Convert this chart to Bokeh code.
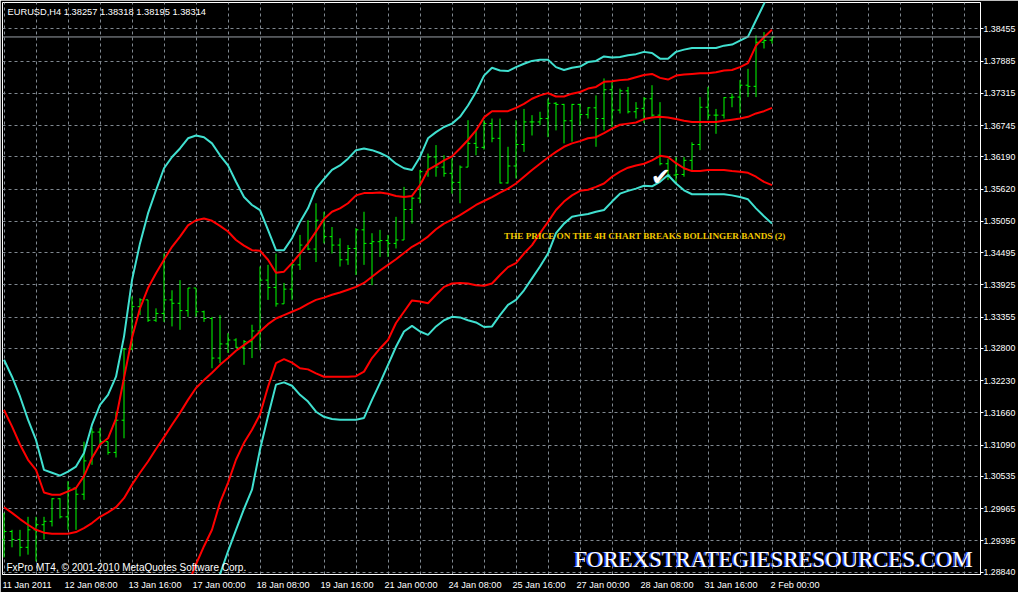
import numpy as np
from bokeh.plotting import figure
from bokeh.models import (ColumnDataSource, FixedTicker, SingleIntervalTicker, Range1d,
                          Label, Span, PrintfTickFormatter)
from bokeh.embed import file_html
from bokeh.resources import INLINE

# ---------------- data ----------------
title_text = "EURUSD,H4  1.38257 1.38318 1.38195 1.38314"
last_price = 1.38314

tick_bars = [0, 8, 16, 24, 32, 40, 48, 56, 64, 72, 80, 88, 96]
tick_labels = ["11 Jan 2011", "12 Jan 08:00", "13 Jan 16:00", "17 Jan 00:00", "18 Jan 08:00",
               "19 Jan 16:00", "21 Jan 00:00", "24 Jan 08:00", "25 Jan 16:00", "27 Jan 00:00",
               "28 Jan 08:00", "31 Jan 16:00", "2 Feb 00:00"]

price_ticks = [1.38455, 1.37885, 1.37315, 1.36745, 1.36190, 1.35620, 1.35050, 1.34495, 1.33925,
               1.33355, 1.32800, 1.32230, 1.31660, 1.31090, 1.30535, 1.29965, 1.29395, 1.28840]

opens = [1.2942, 1.2956, 1.2942, 1.2928, 1.2959, 1.2968, 1.2974, 1.3014, 1.2982, 1.3033,
         1.3022, 1.3081, 1.3132, 1.3115, 1.3096, 1.3153, 1.3279, 1.3354, 1.3366, 1.3330,
         1.3342, 1.3366, 1.3360, 1.3347, 1.3387, 1.3345, 1.3333, 1.3263, 1.3288, 1.3295,
         1.3282, 1.3292, 1.3311, 1.3401, 1.3388, 1.3359, 1.3385, 1.3428, 1.3463, 1.3456,
         1.3507, 1.3478, 1.3463, 1.3437, 1.3457, 1.3490, 1.3466, 1.3469, 1.3471, 1.3466,
         1.3472, 1.3526, 1.3546, 1.3593, 1.3619, 1.3601, 1.3590, 1.3574, 1.3601, 1.3643,
         1.3636, 1.3678, 1.3652, 1.3573, 1.3603, 1.3641, 1.3681, 1.3681, 1.3687, 1.3714,
         1.3712, 1.3683, 1.3712, 1.3694, 1.3706, 1.3687, 1.3738, 1.3702, 1.3736, 1.3699,
         1.3705, 1.3722, 1.3693, 1.3607, 1.3587, 1.3588, 1.3613, 1.3641, 1.3707, 1.3693,
         1.3693, 1.3724, 1.3725, 1.3746, 1.3744, 1.3822, 1.38257]

highs = [1.2989, 1.2959, 1.2959, 1.2982, 1.2982, 1.2982, 1.3015, 1.3015, 1.3045, 1.3033,
         1.3115, 1.3139, 1.3139, 1.3115, 1.3168, 1.3280, 1.3372, 1.3369, 1.3366, 1.3351,
         1.3448, 1.3383, 1.3401, 1.3387, 1.3387, 1.3347, 1.3336, 1.3339, 1.3307, 1.3298,
         1.3295, 1.3322, 1.3425, 1.3428, 1.3448, 1.3396, 1.3431, 1.3481, 1.3507, 1.3537,
         1.3522, 1.3495, 1.3475, 1.3463, 1.3493, 1.3522, 1.3484, 1.3490, 1.3481, 1.3513,
         1.3566, 1.3548, 1.3596, 1.3625, 1.3640, 1.3622, 1.3616, 1.3604, 1.3684, 1.3666,
         1.3684, 1.3687, 1.3687, 1.3637, 1.3684, 1.3704, 1.3693, 1.3699, 1.3722, 1.3716,
         1.3713, 1.3713, 1.3713, 1.3707, 1.3728, 1.3758, 1.3752, 1.3740, 1.3743, 1.3716,
         1.3725, 1.3746, 1.3716, 1.3616, 1.3619, 1.3619, 1.3645, 1.3725, 1.3743, 1.3704,
         1.3725, 1.3731, 1.3755, 1.3775, 1.3834, 1.3840, 1.38318]

lows = [1.2910, 1.2928, 1.2912, 1.2915, 1.2903, 1.2942, 1.2965, 1.2979, 1.2959, 1.2959,
        1.3012, 1.3074, 1.3110, 1.3092, 1.3087, 1.3121, 1.3277, 1.3339, 1.3327, 1.3327,
        1.3327, 1.3319, 1.3313, 1.3336, 1.3336, 1.3327, 1.3245, 1.3254, 1.3272, 1.3281,
        1.3251, 1.3263, 1.3277, 1.3366, 1.3354, 1.3359, 1.3366, 1.3419, 1.3454, 1.3433,
        1.3466, 1.3448, 1.3425, 1.3428, 1.3410, 1.3428, 1.3392, 1.3442, 1.3442, 1.3457,
        1.3472, 1.3501, 1.3537, 1.3584, 1.3584, 1.3584, 1.3554, 1.3537, 1.3601, 1.3622,
        1.3632, 1.3645, 1.3572, 1.3572, 1.3581, 1.3628, 1.3657, 1.3675, 1.3654, 1.3666,
        1.3643, 1.3646, 1.3675, 1.3687, 1.3637, 1.3666, 1.3672, 1.3696, 1.3696, 1.3687,
        1.3679, 1.3690, 1.3604, 1.3578, 1.3575, 1.3584, 1.3596, 1.3631, 1.3684, 1.3660,
        1.3687, 1.3707, 1.3696, 1.3725, 1.3725, 1.3811, 1.38195]

closes = [1.2956, 1.2942, 1.2928, 1.2959, 1.2968, 1.2974, 1.3014, 1.2982, 1.3033, 1.3022,
          1.3081, 1.3132, 1.3115, 1.3096, 1.3153, 1.3279, 1.3354, 1.3366, 1.3330, 1.3342,
          1.3366, 1.3360, 1.3347, 1.3387, 1.3345, 1.3333, 1.3263, 1.3288, 1.3295, 1.3282,
          1.3292, 1.3311, 1.3401, 1.3388, 1.3359, 1.3385, 1.3428, 1.3463, 1.3456, 1.3507,
          1.3478, 1.3463, 1.3437, 1.3457, 1.3490, 1.3466, 1.3469, 1.3471, 1.3466, 1.3472,
          1.3526, 1.3546, 1.3593, 1.3619, 1.3601, 1.3590, 1.3574, 1.3601, 1.3643, 1.3636,
          1.3678, 1.3652, 1.3573, 1.3603, 1.3641, 1.3681, 1.3681, 1.3687, 1.3714, 1.3712,
          1.3683, 1.3712, 1.3694, 1.3706, 1.3687, 1.3738, 1.3702, 1.3736, 1.3699, 1.3705,
          1.3722, 1.3693, 1.3607, 1.3587, 1.3588, 1.3613, 1.3641, 1.3707, 1.3693, 1.3693,
          1.3724, 1.3725, 1.3746, 1.3744, 1.3822, 1.3825, 1.38314]

# Bollinger bands: outer (cyan) and inner (red) envelopes, middle line (red)
bb_outer_up = [1.3260, 1.3230, 1.3195, 1.3154, 1.3118, 1.3065, 1.3060, 1.3055, 1.3062, 1.3071,
               1.3095, 1.3145, 1.3180, 1.3198, 1.3230, 1.3301, 1.3401, 1.3466, 1.3519, 1.3560,
               1.3599, 1.3619, 1.3634, 1.3652, 1.3657, 1.3654, 1.3643, 1.3622, 1.3604, 1.3575,
               1.3548, 1.3534, 1.3525, 1.3490, 1.3454, 1.3454, 1.3475, 1.3504, 1.3528, 1.3563,
               1.3580, 1.3596, 1.3604, 1.3616, 1.3631, 1.3634, 1.3631, 1.3626, 1.3619, 1.3607,
               1.3599, 1.3596, 1.3619, 1.3652, 1.3663, 1.3672, 1.3678, 1.3690, 1.3710, 1.3734,
               1.3763, 1.3777, 1.3772, 1.3771, 1.3778, 1.3784, 1.3789, 1.3791, 1.3791, 1.3778,
               1.3773, 1.3777, 1.3779, 1.3787, 1.3789, 1.3797, 1.3795, 1.3796, 1.3799, 1.3801,
               1.3805, 1.3803, 1.3793, 1.3793, 1.3805, 1.3809, 1.3812, 1.3812, 1.3812, 1.3812,
               1.3816, 1.3818, 1.3825, 1.3832, 1.3861, 1.3890, 1.3922]

bb_inner_up = [1.3171, 1.3142, 1.3110, 1.3083, 1.3065, 1.3025, 1.3021, 1.3021, 1.3027, 1.3033,
               1.3054, 1.3086, 1.3110, 1.3121, 1.3156, 1.3228, 1.3299, 1.3351, 1.3387, 1.3413,
               1.3437, 1.3460, 1.3478, 1.3498, 1.3507, 1.3510, 1.3506, 1.3497, 1.3487, 1.3472,
               1.3462, 1.3454, 1.3453, 1.3437, 1.3414, 1.3416, 1.3431, 1.3448, 1.3466, 1.3487,
               1.3509, 1.3522, 1.3528, 1.3537, 1.3551, 1.3555, 1.3555, 1.3556, 1.3554, 1.3550,
               1.3548, 1.3550, 1.3569, 1.3596, 1.3604, 1.3613, 1.3620, 1.3634, 1.3649, 1.3666,
               1.3689, 1.3700, 1.3700, 1.3700, 1.3706, 1.3713, 1.3722, 1.3728, 1.3732, 1.3726,
               1.3726, 1.3731, 1.3734, 1.3740, 1.3743, 1.3752, 1.3753, 1.3755, 1.3756, 1.3760,
               1.3764, 1.3766, 1.3759, 1.3756, 1.3763, 1.3765, 1.3766, 1.3767, 1.3767, 1.3769,
               1.3772, 1.3773, 1.3778, 1.3785, 1.3816, 1.3831, 1.3844]

bb_middle = [1.2999, 1.2989, 1.2978, 1.2968, 1.2959, 1.2954, 1.2952, 1.2952, 1.2952, 1.2955,
             1.2962, 1.2971, 1.2982, 1.2990, 1.2999, 1.3015, 1.3039, 1.3060, 1.3080, 1.3102,
             1.3123, 1.3145, 1.3166, 1.3189, 1.3210, 1.3224, 1.3237, 1.3251, 1.3263, 1.3276,
             1.3286, 1.3296, 1.3310, 1.3323, 1.3333, 1.3339, 1.3345, 1.3351, 1.3359, 1.3366,
             1.3370, 1.3375, 1.3379, 1.3384, 1.3389, 1.3396, 1.3407, 1.3418, 1.3428, 1.3438,
             1.3449, 1.3460, 1.3468, 1.3478, 1.3491, 1.3501, 1.3508, 1.3516, 1.3525, 1.3534,
             1.3541, 1.3548, 1.3556, 1.3563, 1.3572, 1.3584, 1.3596, 1.3607, 1.3618, 1.3628,
             1.3637, 1.3643, 1.3647, 1.3652, 1.3654, 1.3661, 1.3669, 1.3676, 1.3678, 1.3680,
             1.3686, 1.3689, 1.3690, 1.3689, 1.3686, 1.3683, 1.3681, 1.3681, 1.3681, 1.3681,
             1.3683, 1.3685, 1.3687, 1.3690, 1.3696, 1.3700, 1.3706]

bb_inner_dn = [None] * 22 + [
               1.2827, 1.2862, 1.2898, 1.2930, 1.2959, 1.3007, 1.3042, 1.3083,
               1.3113, 1.3136, 1.3163, 1.3212, 1.3254, 1.3261, 1.3255, 1.3245, 1.3243, 1.3236,
               1.3230, 1.3230, 1.3230, 1.3230, 1.3231, 1.3239, 1.3263, 1.3280, 1.3295, 1.3325,
               1.3345, 1.3365, 1.3363, 1.3360, 1.3375, 1.3389, 1.3395, 1.3396, 1.3395, 1.3392,
               1.3391, 1.3395, 1.3410, 1.3424, 1.3431, 1.3448, 1.3463, 1.3484, 1.3504, 1.3525,
               1.3540, 1.3551, 1.3559, 1.3561, 1.3566, 1.3572, 1.3584, 1.3593, 1.3600, 1.3604,
               1.3607, 1.3613, 1.3621, 1.3619, 1.3608, 1.3599, 1.3594, 1.3594, 1.3596, 1.3596,
               1.3596, 1.3594, 1.3593, 1.3591, 1.3584, 1.3575, 1.3569]

bb_outer_dn = [None] * 26 + [
               1.2850, 1.2880, 1.2921, 1.2959,
               1.2996, 1.3030, 1.3101, 1.3160, 1.3216, 1.3220, 1.3214, 1.3198, 1.3186, 1.3168,
               1.3159, 1.3155, 1.3154, 1.3154, 1.3154, 1.3157, 1.3189, 1.3219, 1.3251, 1.3283,
               1.3310, 1.3320, 1.3310, 1.3304, 1.3319, 1.3330, 1.3336, 1.3335, 1.3330, 1.3326,
               1.3318, 1.3319, 1.3339, 1.3357, 1.3366, 1.3383, 1.3404, 1.3425, 1.3448, 1.3484,
               1.3501, 1.3513, 1.3516, 1.3518, 1.3522, 1.3525, 1.3540, 1.3554, 1.3559, 1.3563,
               1.3568, 1.3567, 1.3575, 1.3587, 1.3572, 1.3560, 1.3553, 1.3553, 1.3553, 1.3553,
               1.3553, 1.3551, 1.3548, 1.3544, 1.3528, 1.3514, 1.3501]

# annotation anchors (bar index, price)
note_text = "THE PRICE ON THE 4H CHART BREAKS BOLLINGER BANDS (2)"
note_pos = (62.5, 1.34798)
check_pos = (82.1, 1.3583)
copyright_text = "FxPro MT4, \u00a9 2001-2010 MetaQuotes Software Corp."
watermark_text = "FOREXSTRATEGIESRESOURCES.COM"

# ---------------- figure ----------------
GRID = "#808890"
BAR = "#00ff00"
CYAN = "#40e0d0"
RED = "#ff0000"

p = figure(width=1018, height=592, output_backend="svg", toolbar_location=None,
           x_range=Range1d(-0.1875, 122.0625), y_range=Range1d(1.28799, 1.38924),
           y_axis_location="right",
           background_fill_color="black", border_fill_color="black",
           outline_line_color="white", outline_line_width=1,
           min_border_left=2, min_border_top=2, min_border_right=38, min_border_bottom=17,
           styles={"position": "absolute", "left": "0px", "top": "0px", "margin": "0px"})

# right price axis
yax = p.yaxis[0]
yax.ticker = FixedTicker(ticks=price_ticks, minor_ticks=[])
yax.formatter = PrintfTickFormatter(format="%.5f")
yax.major_label_text_font = "Liberation Sans"
yax.major_label_text_font_size = "8.8px"
yax.major_label_text_color = "white"
yax.major_tick_out = 3
yax.major_tick_in = 0
yax.major_tick_line_color = "white"
yax.minor_tick_line_color = None
yax.axis_line_color = "white"
yax.major_label_standoff = 0

# bottom time axis: labels start at their bar (MT4 style)
label_pos = [b + 2.875 for b in tick_bars]
xax = p.xaxis[0]
xax.ticker = FixedTicker(ticks=label_pos, minor_ticks=[])
xax.major_label_overrides = {pos: lab for pos, lab in zip(label_pos, tick_labels)}
xax.major_label_text_font = "Liberation Sans"
xax.major_label_text_font_size = "9.2px"
xax.major_label_text_color = "white"
xax.major_tick_line_color = None
xax.major_tick_out = 0
xax.major_tick_in = 0
xax.minor_tick_line_color = None
xax.axis_line_color = "white"
xax.major_label_standoff = 5

p.xgrid.ticker = SingleIntervalTicker(interval=4)
p.ygrid.ticker = FixedTicker(ticks=price_ticks)
for g in (p.xgrid[0], p.ygrid[0]):
    g.grid_line_color = GRID
    g.grid_line_dash = "3 3"
    g.grid_line_width = 1

# current price line
p.add_layout(Span(location=last_price, dimension="width", line_color="#9aa0a8", line_width=1))

# OHLC bars
idx = np.arange(len(closes), dtype=float)
src = ColumnDataSource(dict(x=idx, xl=idx - 0.3, xr=idx + 0.3,
                            o=opens, h=highs, l=lows, c=closes))
p.segment(x0="x", y0="l", x1="x", y1="h", source=src, line_color=BAR, line_width=1)
p.segment(x0="xl", y0="o", x1="x", y1="o", source=src, line_color=BAR, line_width=1)
p.segment(x0="x", y0="c", x1="xr", y1="c", source=src, line_color=BAR, line_width=1)

# Bollinger bands
for arr, col in ((bb_outer_up, CYAN), (bb_outer_dn, CYAN),
                 (bb_inner_up, RED), (bb_middle, RED), (bb_inner_dn, RED)):
    p.line(idx, np.array(arr, dtype=float), line_color=col, line_width=2)

# texts
p.add_layout(Label(x=0.44, y=1.38756, text=title_text, text_color="white",
                   text_font="Liberation Sans", text_font_size="9.3px",
                   text_baseline="alphabetic", text_align="left"))
p.add_layout(Label(x=0.31, y=1.28922, text=copyright_text, text_color="white",
                   text_font="Liberation Sans", text_font_size="10px",
                   text_baseline="alphabetic", text_align="left"))
p.add_layout(Label(x=71.3, y=1.29064, x_offset=-1.5, text=watermark_text, text_color="#3a5cff",
                   text_font="Liberation Serif", text_font_size="22.8px",
                   text_baseline="alphabetic", text_align="left"))
p.add_layout(Label(x=71.3, y=1.29064, text=watermark_text, text_color="white",
                   text_font="Liberation Serif", text_font_size="22.8px",
                   text_baseline="alphabetic", text_align="left"))
p.add_layout(Label(x=note_pos[0], y=note_pos[1], text=note_text, text_color="#f2c800",
                   text_font="Liberation Serif", text_font_size="9.2px", text_font_style="bold",
                   text_baseline="alphabetic", text_align="left"))
p.add_layout(Label(x=check_pos[0], y=check_pos[1], text="\u2714", text_color="white",
                   text_font="DejaVu Sans", text_font_size="24px",
                   text_baseline="middle", text_align="center"))
# current price tag on the axis
p.add_layout(Label(x=122.31, y=last_price, text="1.38314", text_color="black",
                   background_fill_color="white", text_font="Liberation Sans",
                   text_font_size="8.8px", text_baseline="middle", text_align="left"))

open("out.html", "w").write(file_html(p, INLINE))
